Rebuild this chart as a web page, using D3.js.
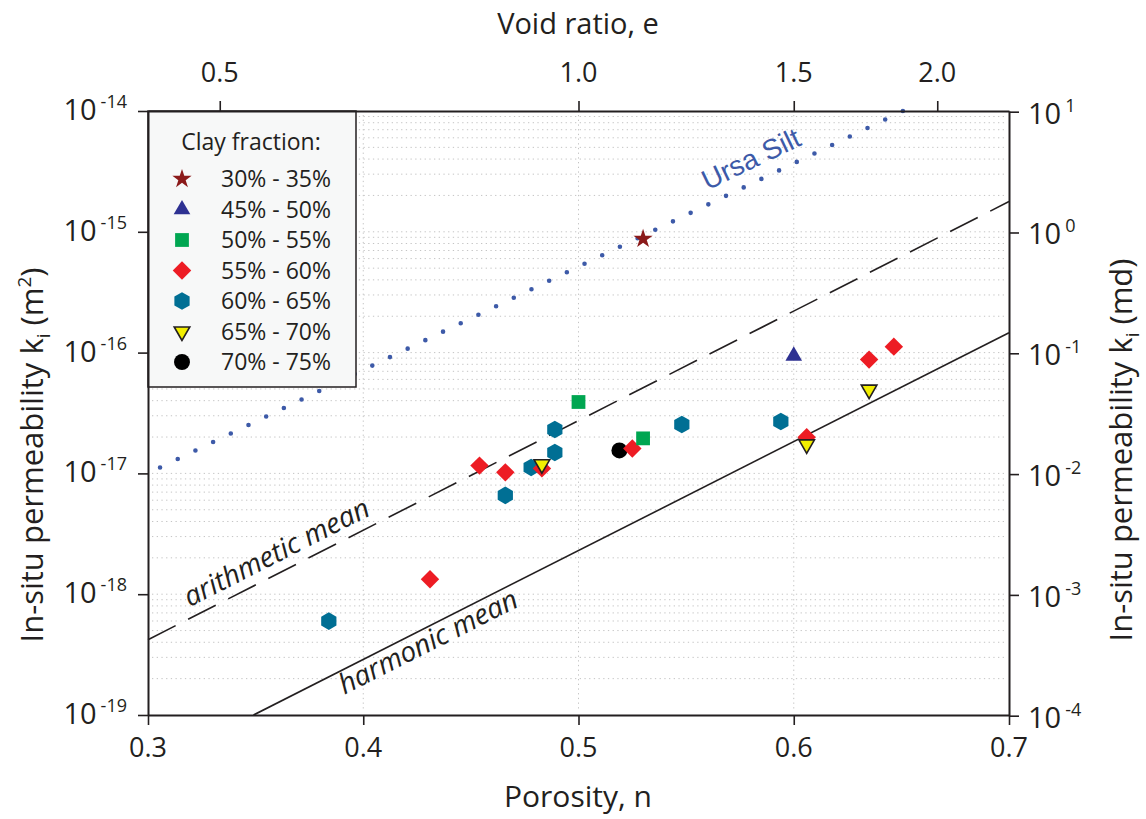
<!DOCTYPE html>
<html>
<head>
<meta charset="utf-8">
<script src="https://cdnjs.cloudflare.com/ajax/libs/d3/7.8.5/d3.min.js"></script>
<style>
    body { margin: 0; background: #fff; }
    svg { display: block; }
    text { font-family: "Open Sans", sans-serif; fill: #231f20; }
</style>
</head>
<body>
<svg id="chart" width="1146" height="819"></svg>
<script>
// ---- data ----
const clayLabels = ['30% - 35%', '45% - 50%', '50% - 55%', '55% - 60%', '60% - 65%', '65% - 70%', '70% - 75%'];
const clayColors = ['#8b1a1a', '#2e3192', '#00a651', '#ed1c24', '#006f94', '#f2ee00', '#000000'];
const clayShapes = ['star', 'triangle', 'square', 'diamond', 'hexagon', 'triangleDown', 'circle'];

const clay3035N = [0.530];
const clay3035K = [8.75e-16];
const clay4550N = [0.600];
const clay4550K = [9.4e-17];
const clay5055N = [0.500, 0.530];
const clay5055K = [3.9e-17, 1.95e-17];
const clay5560N = [0.431, 0.454, 0.466, 0.483, 0.525, 0.606, 0.635, 0.6465];
const clay5560K = [1.33e-18, 1.16e-17, 1.02e-17, 1.10e-17, 1.61e-17, 1.99e-17, 8.75e-17, 1.12e-16];
const clay6065N = [0.384, 0.466, 0.478, 0.489, 0.489, 0.548, 0.594];
const clay6065K = [5.98e-19, 6.58e-18, 1.12e-17, 2.31e-17, 1.49e-17, 2.54e-17, 2.69e-17];
const clay6570N = [0.483, 0.606, 0.635];
const clay6570K = [1.19e-17, 1.74e-17, 4.94e-17];
const clay7075N = [0.519];
const clay7075K = [1.55e-17];

// trend lines (porosity, permeability m2)
const ursaN = [0.3056, 0.6507];
const ursaK = [1.12e-17, 1.0e-14];
const arithN = [0.3, 0.7];
const arithK = [4.2e-19, 1.78e-15];
const harmN = [0.349, 0.7];
const harmK = [1.0e-19, 1.46e-16];

// axes
const porosityTicks = [0.3, 0.4, 0.5, 0.6, 0.7];
const voidTicks = [0.5, 1.0, 1.5, 2.0];
const m2Ticks = [-14, -15, -16, -17, -18, -19];
const mdTicks = [1, 0, -1, -2, -3, -4];
const MD_TO_M2 = 9.869233e-16;

// ---- layout ----
const X0 = 148, X1 = 1009, Y0 = 111, Y1 = 715;
const svg = d3.select('#chart');

const x = d3.scaleLinear().domain([0.3, 0.7]).range([X0, X1]);
const y = d3.scaleLog().domain([1e-19, 1e-14]).range([Y1, Y0]);
const yMd = d3.scaleLog().domain([1e-19 / MD_TO_M2, 1e-14 / MD_TO_M2]).range([Y1, Y0]);

// grid
let grid = svg.append('g');
y.ticks().forEach(function (t) {
    if (t <= 1.0001e-19 || t >= 0.9999e-14) return;
    grid.append('line')
        .attr('x1', X0 + 4).attr('x2', X1 - 5)
        .attr('y1', y(t)).attr('y2', y(t))
        .attr('stroke', '#c4c4c4').attr('stroke-width', 1)
        .attr('stroke-dasharray', '1.3,3.4');
});
[0.4, 0.5, 0.6].forEach(function (t) {
    grid.append('line')
        .attr('x1', x(t)).attr('x2', x(t))
        .attr('y1', Y0 + 4).attr('y2', Y1 - 4)
        .attr('stroke', '#c4c4c4').attr('stroke-width', 1)
        .attr('stroke-dasharray', '1.3,3.4');
});

// trend lines
let lineGen = d3.line()
    .x(function (d) { return x(d[0]); })
    .y(function (d) { return y(d[1]); });

function pairs(ns, ks) {
    return ns.map(function (n, i) { return [n, ks[i]]; });
}

svg.append('path')
    .attr('d', lineGen(pairs(arithN, arithK)))
    .attr('fill', 'none').attr('stroke', '#231f20').attr('stroke-width', 1.6)
    .attr('stroke-dasharray', '31,14');

svg.append('path')
    .attr('d', lineGen(pairs(harmN, harmK)))
    .attr('fill', 'none').attr('stroke', '#231f20').attr('stroke-width', 1.6);

let ursaLen = Math.hypot(x(ursaN[1]) - x(ursaN[0]), y(ursaK[1]) - y(ursaK[0]));
svg.append('path')
    .attr('d', lineGen(pairs(ursaN, ursaK)))
    .attr('fill', 'none').attr('stroke', '#3d5aa8').attr('stroke-width', 4.6)
    .attr('stroke-linecap', 'round')
    .attr('stroke-dasharray', '0,' + (ursaLen / 42));

// labels along lines
function lineLabel(ns, ks, n, off, txt, style) {
    const ang = Math.atan2(y(ks[1]) - y(ks[0]), x(ns[1]) - x(ns[0])) * 180 / Math.PI;
    const t = (n - ns[0]) / (ns[1] - ns[0]);
    const lk = Math.log10(ks[0]) + t * (Math.log10(ks[1]) - Math.log10(ks[0]));
    let g = svg.append('g')
        .attr('transform', 'translate(' + x(n) + ',' + y(Math.pow(10, lk)) + ') rotate(' + ang + ')');
    let el = g.append('text').attr('x', 0).attr('y', off).text(txt);
    Object.keys(style).forEach(function (k) { el.style(k, style[k]); });
}

lineLabel(ursaN, ursaK, 0.5625, -13, 'Ursa Silt',
    { 'font-family': '"Liberation Sans", Arial, sans-serif', 'font-size': '28px', 'fill': '#3d5aa8' });
lineLabel(arithN, arithK, 0.3215, -10, 'arithmetic mean',
    { 'font-size': '28px', 'font-style': 'italic' });
lineLabel(harmN, harmK, 0.3865, 23, 'harmonic mean',
    { 'font-size': '28px', 'font-style': 'italic' });

// symbols
function hexPath(r) {
    let pts = d3.range(6).map(function (i) {
        const a = Math.PI / 3 * i - Math.PI / 2;
        return [r * Math.cos(a), r * Math.sin(a)];
    });
    return 'M' + pts.map(function (p) { return p.join(','); }).join('L') + 'Z';
}

function symbolPath(shape) {
    if (shape === 'star') return { d: d3.symbol(d3.symbolStar, 115)(), rot: 0 };
    if (shape === 'triangle') return { d: d3.symbol(d3.symbolTriangle, 120)(), rot: 0 };
    if (shape === 'square') return { d: d3.symbol(d3.symbolSquare, 190)(), rot: 0 };
    if (shape === 'diamond') return { d: d3.symbol(d3.symbolSquare, 170)(), rot: 45 };
    if (shape === 'hexagon') return { d: hexPath(8.8), rot: 0 };
    if (shape === 'triangleDown') return { d: d3.symbol(d3.symbolTriangle, 105)(), rot: 180 };
    return { d: d3.symbol(d3.symbolCircle, 200)(), rot: 0 };
}

function drawMark(parent, cx, cy, idx) {
    const s = symbolPath(clayShapes[idx]);
    let p = parent.append('path')
        .attr('d', s.d)
        .attr('transform', 'translate(' + cx + ',' + cy + ') rotate(' + s.rot + ')')
        .attr('fill', clayColors[idx]);
    if (clayShapes[idx] === 'triangleDown') {
        p.attr('stroke', '#231f20').attr('stroke-width', 1.6);
    }
}

const seriesN = [clay3035N, clay4550N, clay5055N, clay5560N, clay6065N, clay6570N, clay7075N];
const seriesK = [clay3035K, clay4550K, clay5055K, clay5560K, clay6065K, clay6570K, clay7075K];
const drawOrder = [4, 6, 3, 2, 1, 0, 5];

let marks = svg.append('g');
drawOrder.forEach(function (i) {
    seriesN[i].forEach(function (n, j) {
        drawMark(marks, x(n), y(seriesK[i][j]), i);
    });
});

// legend
let legend = svg.append('g');
legend.append('rect')
    .attr('x', X0).attr('y', Y0).attr('width', 208).attr('height', 276)
    .attr('fill', '#f7f8f8').attr('stroke', '#231f20').attr('stroke-width', 1.5);
legend.append('text')
    .attr('x', 251).attr('y', 150).attr('text-anchor', 'middle')
    .style('font-size', '23px').text('Clay fraction:');
clayLabels.forEach(function (lab, i) {
    const ly = 179 + i * 30.5;
    drawMark(legend, 182, ly, i);
    legend.append('text')
        .attr('x', 221).attr('y', ly + 8)
        .style('font-size', '23px').text(lab);
});

// axes
const axisColor = '#231f20';
function styleAxis(g) {
    g.select('.domain').attr('stroke', axisColor).attr('stroke-width', 2);
    g.selectAll('.tick line').attr('stroke', axisColor).attr('stroke-width', 1.6);
    g.selectAll('.tick text').remove();
}

let axisB = svg.append('g').attr('transform', 'translate(0,' + Y1 + ')')
    .call(d3.axisBottom(x).tickValues(porosityTicks).tickSize(10).tickSizeOuter(0));
styleAxis(axisB);
porosityTicks.forEach(function (t) {
    svg.append('text').attr('x', x(t)).attr('y', 757).attr('text-anchor', 'middle')
        .style('font-size', '27px').text(t.toFixed(1));
});

let axisT = svg.append('g').attr('transform', 'translate(0,' + Y0 + ')')
    .call(d3.axisTop(x).tickValues(voidTicks.map(function (e) { return e / (1 + e); }))
        .tickSize(10).tickSizeOuter(0));
styleAxis(axisT);
voidTicks.forEach(function (e) {
    svg.append('text').attr('x', x(e / (1 + e))).attr('y', 82).attr('text-anchor', 'middle')
        .style('font-size', '27px').text(e.toFixed(1));
});

let axisL = svg.append('g').attr('transform', 'translate(' + X0 + ',0)')
    .call(d3.axisLeft(y).tickValues(m2Ticks.map(function (p) { return Math.pow(10, p); }))
        .tickSize(10).tickSizeOuter(0));
styleAxis(axisL);
m2Ticks.forEach(function (p) {
    let t = svg.append('text').attr('x', 127).attr('y', y(Math.pow(10, p)) + 9)
        .attr('text-anchor', 'end').style('font-size', '29px');
    t.append('tspan').text('10');
    t.append('tspan').attr('dx', 4).attr('dy', -12).style('font-size', '18px').text(String(p));
});

let axisR = svg.append('g').attr('transform', 'translate(' + X1 + ',0)')
    .call(d3.axisRight(yMd).tickValues(mdTicks.map(function (p) { return Math.pow(10, p); }))
        .tickSize(10).tickSizeOuter(0));
styleAxis(axisR);
mdTicks.forEach(function (p) {
    let t = svg.append('text').attr('x', 1028).attr('y', yMd(Math.pow(10, p)) + 12)
        .style('font-size', '29px');
    t.append('tspan').text('10');
    t.append('tspan').attr('dx', 4).attr('dy', -12).style('font-size', '18px').text(String(p));
});

// titles
svg.append('text').attr('x', 578).attr('y', 34).attr('text-anchor', 'middle')
    .style('font-size', '29px').text('Void ratio, e');
svg.append('text').attr('x', 578).attr('y', 807).attr('text-anchor', 'middle')
    .style('font-size', '30px').text('Porosity, n');

function yTitle(tx, ty, unit) {
    let t = svg.append('text')
        .attr('transform', 'translate(' + tx + ',' + ty + ') rotate(-90)')
        .attr('text-anchor', 'middle').style('font-size', '31px');
    t.append('tspan').text('In-situ permeability k');
    t.append('tspan').attr('dy', 7).style('font-size', '19px').text('i');
    t.append('tspan').attr('dy', -7).text(' (' + unit);
    if (unit === 'm') {
        t.append('tspan').attr('dy', -12).style('font-size', '19px').text('2');
        t.append('tspan').attr('dy', 12).text(')');
    } else {
        t.append('tspan').text(')');
    }
}
yTitle(43, 455, 'm');
yTitle(1132, 450, 'md');
</script>
</body>
</html>
